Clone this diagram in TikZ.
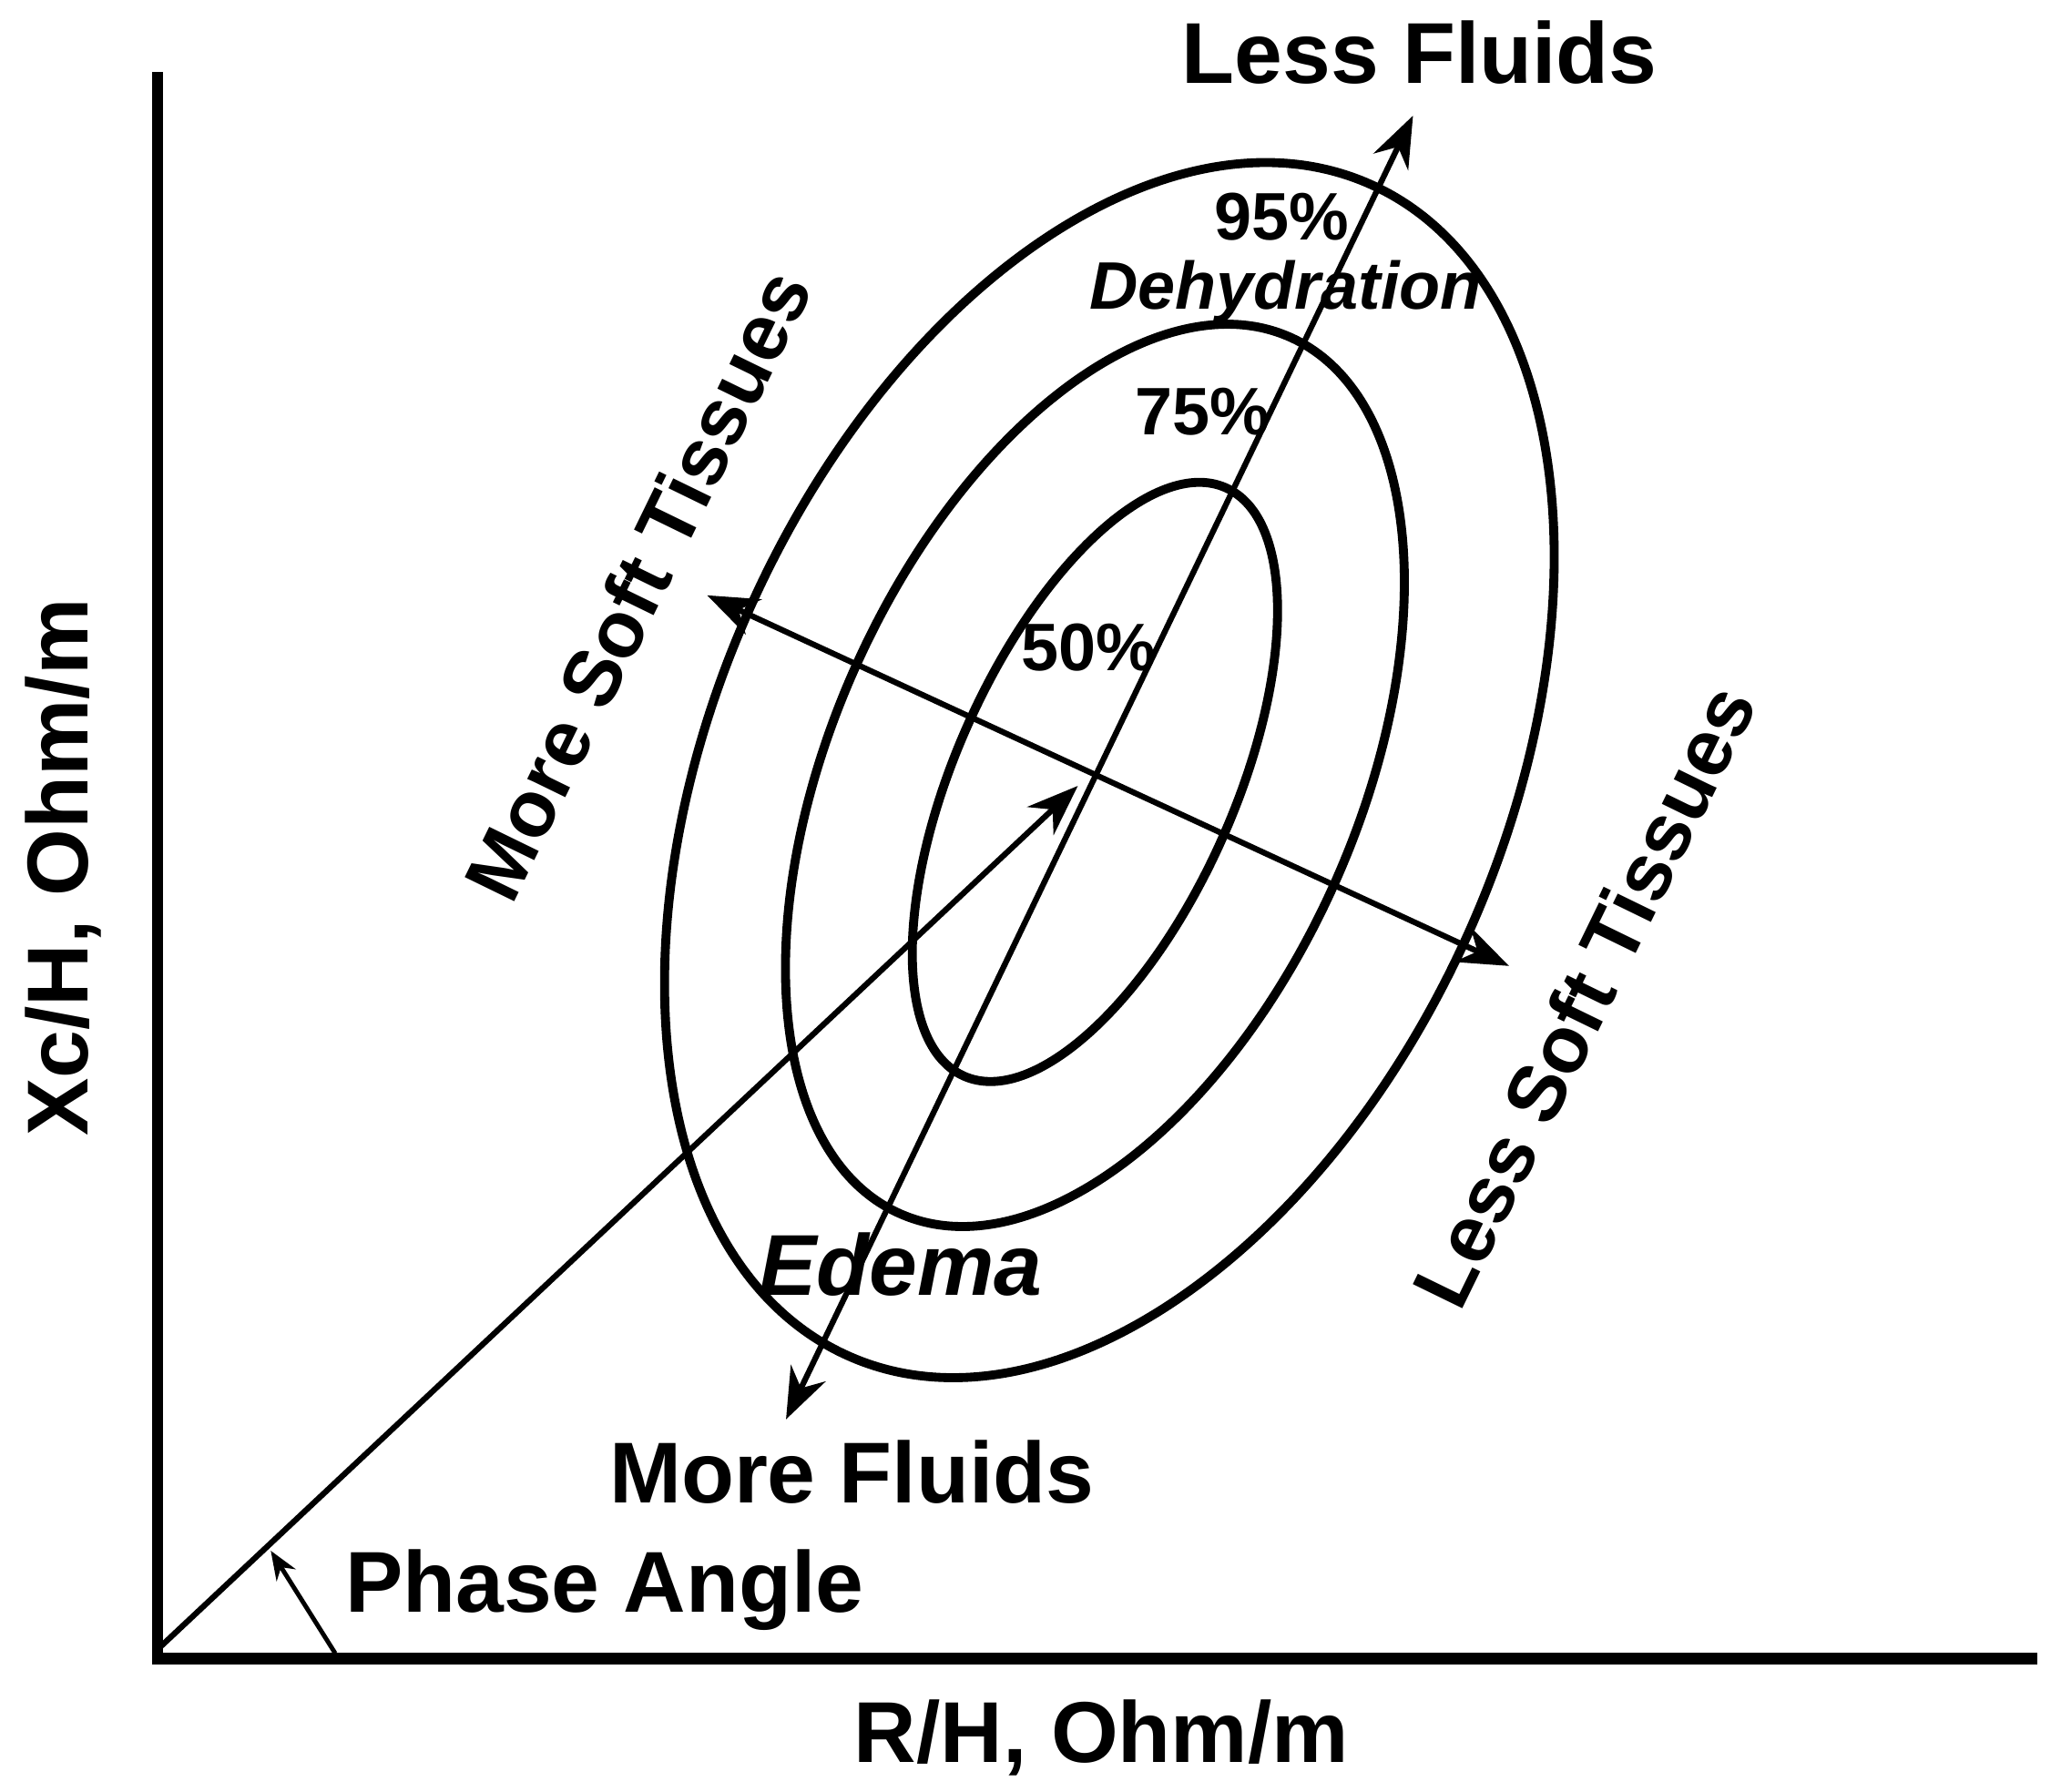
\documentclass[tikz,border=0pt]{standalone}
\usepackage{fontspec}
\setmainfont{Liberation Sans}
\usetikzlibrary{arrows.meta}
\begin{document}
\begin{tikzpicture}[x=0.01443cm,y=-0.01443cm,
  lab/.style={font=\fontsize{27}{30}\selectfont\bfseries,inner sep=0pt},
  rlab/.style={font=\fontsize{25}{28}\selectfont\bfseries,inner sep=0pt,rotate=64},
  pct/.style={font=\fontsize{21}{24}\selectfont\bfseries,inner sep=0pt},
  ell/.style={line width=2.8pt},
  arr/.style={line width=1.8pt,-{Stealth[length=16pt,width=12pt]}},
  darr/.style={line width=1.8pt,{Stealth[length=16pt,width=12pt]}-{Stealth[length=16pt,width=12pt]}}]
\useasboundingbox (0,0) rectangle (1568,1363);
\coordinate (top) at (120,55);
\coordinate (o) at (120,1262);
\coordinate (xe) at (1550,1262);
\draw[line width=3.5pt] (top) -- (o) -- (xe);
\coordinate (c) at (820,598);
\draw[ell,rotate around={66:(833,595)}] (833,595) ellipse [x radius=245,y radius=106];
\draw[ell,rotate around={66:(833,590)}] (833,590) ellipse [x radius=365,y radius=200];
\draw[ell,rotate around={66:(844,586)}] (844,586) ellipse [x radius=488,y radius=300];
\coordinate (mf) at (598,1080);
\coordinate (lf) at (1075,88);
\coordinate (ms) at (538,453);
\coordinate (ls) at (1148,735);
\draw[darr] (mf) -- (lf);
\draw[darr] (ms) -- (ls);
\draw[arr] (120,1255) -- (c);
\coordinate (pa1) at (255,1258);
\coordinate (pa2) at (206,1180);
\draw[line width=1.4pt,-{Stealth[length=9pt,width=7pt]}] (pa1) -- (pa2);
\node[lab] (nlf) at (1080,40) {Less Fluids};
\node[lab] (nmf) at (648,1120) {More Fluids};
\node[lab] (npa) at (460,1210) {Phase Angle};
\node[lab] (nrh) at (838,1322) {R/H, Ohm/m};
\node[lab,rotate=90] (nxc) at (48,660) {Xc/H, Ohm/m};
\node[rlab] (nms) at (485,445) {More Soft Tissues};
\node[rlab] (nls) at (1205,758) {Less Soft Tissues};
\node[lab,font=\fontsize{27}{30}\selectfont\bfseries\itshape] (ned) at (685,962) {Edema};
\node[pct,font=\fontsize{21}{24}\selectfont\bfseries\itshape] (ndh) at (978,222) {Dehydration};
\node[pct] (n95) at (975,165) {95\%};
\node[pct] (n75) at (915,313) {75\%};
\node[pct] (n50) at (828,493) {50\%};
\end{tikzpicture}
\end{document}
